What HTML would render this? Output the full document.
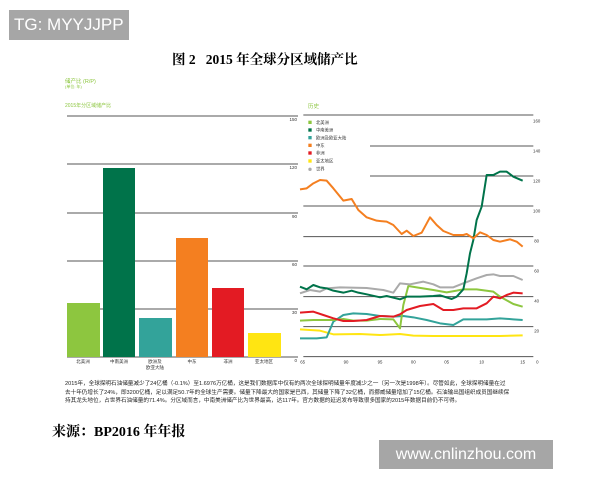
<!DOCTYPE html>
<html><head><meta charset="utf-8"><style>
body{margin:0;width:600px;height:480px;background:#fff;position:relative;overflow:hidden;font-family:"Liberation Sans","Noto Sans CJK SC",sans-serif}
.a{position:absolute;white-space:nowrap}
</style></head><body>
<div class="a" style="left:9px;top:10px;width:120px;height:30px;background:#a6a6a6;color:#fff;font-size:17px;line-height:30px;padding-left:5px;box-sizing:border-box">TG: MYYJJPP</div>
<div class="a" style="left:172px;top:48px;font-family:'Liberation Serif','Noto Serif CJK SC',serif;font-weight:bold;font-size:13.5px">图 2&nbsp;&nbsp; 2015 年全球分区域储产比</div>
<div class="a" style="left:65px;top:77px;font-size:5.5px;color:#8cc63f">储产比 (R/P)</div>
<div class="a" style="left:65px;top:84px;font-size:4px;color:#8cc63f">(单位: 年)</div>
<div class="a" style="left:65px;top:102px;font-size:5px;color:#8cc63f">2015年分区域储产比</div>
<div class="a" style="left:308px;top:102px;font-size:5.5px;color:#8cc63f">历史</div>
<svg class="a" style="left:0;top:0" width="600" height="480">
<g stroke="#555" stroke-width="1">
<line x1="67" y1="116" x2="298" y2="116"/><line x1="67" y1="164" x2="298" y2="164"/><line x1="67" y1="213" x2="298" y2="213"/><line x1="67" y1="261" x2="298" y2="261"/><line x1="67" y1="309" x2="298" y2="309"/><line x1="67" y1="357" x2="298" y2="357"/>
</g>
<g font-size="4.5" fill="#333" text-anchor="end">
<text x="297" y="121">150</text><text x="297" y="169">120</text><text x="297" y="218">90</text><text x="297" y="266">60</text><text x="297" y="314">30</text><text x="297" y="362">0</text>
</g>
<rect x="67" y="303" width="33" height="54" fill="#8dc63f"/>
<rect x="103" y="168" width="32" height="189" fill="#00734a"/>
<rect x="139" y="318" width="33" height="39" fill="#33a39a"/>
<rect x="176" y="238" width="32" height="119" fill="#f47f20"/>
<rect x="212" y="288" width="32" height="69" fill="#e31b23"/>
<rect x="248" y="333" width="33" height="24" fill="#ffe512"/>
<g font-size="4.5" fill="#333" text-anchor="middle">
<text x="83" y="363">北美洲</text><text x="119" y="363">中南美洲</text><text x="155" y="363">欧洲及</text><text x="155" y="369">欧亚大陆</text><text x="192" y="363">中东</text><text x="228" y="363">非洲</text><text x="264" y="363">亚太地区</text>
</g>
<g transform="translate(300,100) scale(0.33333)">
<g stroke="#555" stroke-width="3">
<line x1="10" y1="45" x2="700" y2="45"/><line x1="210" y1="138" x2="700" y2="138"/><line x1="210" y1="228" x2="700" y2="228"/><line x1="10" y1="318" x2="700" y2="318"/><line x1="10" y1="410" x2="700" y2="410"/><line x1="10" y1="498" x2="700" y2="498"/><line x1="10" y1="590" x2="700" y2="590"/><line x1="10" y1="680" x2="700" y2="680"/><line x1="10" y1="770" x2="700" y2="770"/>
</g>
<g font-size="13" fill="#333" text-anchor="middle">
<text x="710" y="68">160</text><text x="710" y="158">140</text><text x="710" y="248">120</text><text x="710" y="338">100</text><text x="710" y="428">80</text><text x="710" y="518">60</text><text x="710" y="608">40</text><text x="710" y="698">20</text>
<text x="8" y="790">65</text><text x="138" y="790">90</text><text x="240" y="790">95</text><text x="340" y="790">00</text><text x="440" y="790">05</text><text x="545" y="790">10</text><text x="668" y="790">15</text><text x="712" y="790">0</text>
</g>
<g font-size="13" fill="#333">
<rect x="25" y="62" width="10" height="10" fill="#8dc63f"/><text x="48" y="72">北美洲</text>
<rect x="25" y="85" width="10" height="10" fill="#00734a"/><text x="48" y="95">中南美洲</text>
<rect x="25" y="108" width="10" height="10" fill="#33a39a"/><text x="48" y="118">欧洲及欧亚大陆</text>
<rect x="25" y="131" width="10" height="10" fill="#f47f20"/><text x="48" y="141">中东</text>
<rect x="25" y="154" width="10" height="10" fill="#e31b23"/><text x="48" y="164">非洲</text>
<rect x="25" y="178" width="10" height="10" fill="#ffe512"/><text x="48" y="188">亚太地区</text>
<circle cx="30" cy="208" r="5" fill="#aaa"/><text x="48" y="212">世界</text>
</g>
<g fill="none" stroke-width="6" stroke-linejoin="round">
<polyline stroke="#ffe512" points="0,688 60,692 100,703 180,702 240,705 300,702 340,707 400,708 500,708 600,708 668,706"/>
<polyline stroke="#33a39a" points="0,715 50,715 80,712 100,665 130,645 160,640 200,642 240,648 280,650 310,648 340,652 380,660 420,670 460,675 490,658 530,658 560,658 600,655 640,658 668,660"/>
<polyline stroke="#8dc63f" points="0,662 40,660 100,660 130,657 160,662 200,662 240,657 280,658 300,685 310,615 325,558 350,562 400,570 440,577 470,572 490,568 530,568 580,575 600,590 640,612 668,620"/>
<polyline stroke="#e31b23" points="0,638 40,635 70,645 100,655 130,663 160,663 200,660 240,648 280,650 300,643 320,630 360,618 400,612 430,630 460,630 490,625 530,625 560,610 580,590 600,595 620,585 640,578 668,580"/>
<polyline stroke="#aaa" points="0,580 30,570 60,575 80,565 120,562 200,564 250,570 280,578 300,550 330,553 370,545 400,553 420,562 460,562 490,550 530,535 560,525 580,523 600,528 640,528 668,540"/>
<polyline stroke="#00734a" points="0,560 20,568 40,555 60,562 80,565 100,572 130,578 155,572 175,578 200,583 240,592 260,588 300,598 320,590 360,590 400,588 420,586 455,597 470,590 490,568 500,520 510,460 520,420 530,360 545,320 560,225 580,225 600,215 620,215 640,230 668,242"/>
<polyline stroke="#f47f20" points="0,268 20,265 40,250 60,240 80,242 100,265 130,302 155,297 175,330 200,352 230,362 260,365 280,375 305,402 320,392 340,408 365,398 390,352 410,375 430,393 460,405 490,405 500,402 520,415 540,397 560,405 580,420 600,425 630,418 650,425 668,440"/>
</g>
</g>
</svg>
<div class="a" style="left:65px;top:380px;font-size:5.6px;line-height:8.5px;color:#222;white-space:normal;width:445px">2015年，全球探明石油储量减少了24亿桶（-0.1%）至1.6976万亿桶，这是我们数据库中仅有的两次全球探明储量年度减少之一（另一次是1998年）。尽管如此，全球探明储量在过去十年仍增长了24%，即3200亿桶，足以满足50.7年的全球生产需要。储量下降最大的国家是巴西，其储量下降了32亿桶，而挪威储量增加了15亿桶。石油输出国组织成员国继续保持其龙头地位，占世界石油储量的71.4%。分区域而言，中南美洲储产比为世界最高，达117年。官方数据的延迟发布导致很多国家的2015年数据目前仍不可得。</div>
<div class="a" style="left:52px;top:421px;font-family:'Liberation Serif','Noto Serif CJK SC',serif;font-weight:bold;font-size:14px">来源：BP2016 年年报</div>
<div class="a" style="left:379px;top:440px;width:174px;height:29px;background:#a6a6a6;color:#fff;font-size:16px;line-height:29px;text-align:center">www.cnlinzhou.com</div>
</body></html>
